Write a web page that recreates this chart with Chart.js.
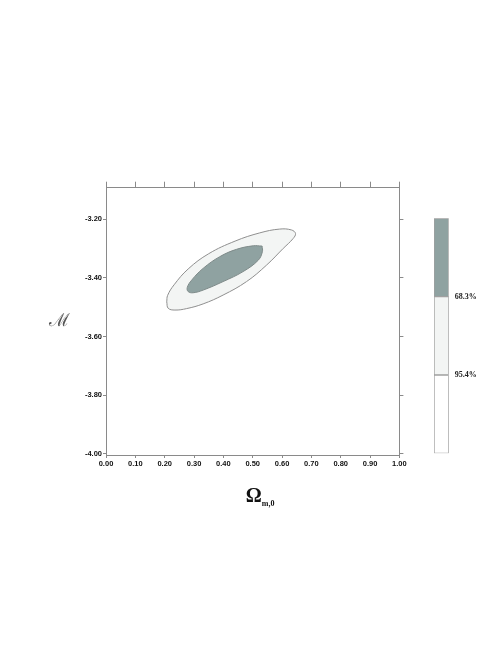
<!DOCTYPE html>
<html>
<head>
<meta charset="utf-8">
<script src="https://cdn.jsdelivr.net/npm/chart.js@4.4.1/dist/chart.umd.min.js"></script>
<style>
  html, body { margin: 0; padding: 0; background: #ffffff; }
  #wrap { position: relative; width: 498px; height: 645px; }
  #main { position: absolute; left: 0; top: 0; }
  #bar { position: absolute; left: 420px; top: 200px; }
</style>
</head>
<body>
<div id="wrap">
  <canvas id="main" width="498" height="645"></canvas>
  <canvas id="bar" width="78" height="270"></canvas>
</div>
<script>
// ---- data ----
const xTicks = [0.0, 0.1, 0.2, 0.3, 0.4, 0.5, 0.6, 0.7, 0.8, 0.9, 1.0];
const yTicks = [-4.0, -3.8, -3.6, -3.4, -3.2];
const xMin = 0.0, xMax = 1.0;
const yMin = -4.004, yMax = -3.093;

// 95.4% contour (closed)
const outerX = [0.207, 0.212, 0.235, 0.275, 0.331, 0.399, 0.479, 0.547, 0.604, 0.638, 0.646, 0.632, 0.592, 0.524, 0.440, 0.350, 0.280, 0.232, 0.210, 0.207];
const outerY = [-3.482, -3.504, -3.510, -3.505, -3.489, -3.459, -3.413, -3.357, -3.300, -3.266, -3.249, -3.237, -3.234, -3.247, -3.275, -3.318, -3.370, -3.424, -3.460, -3.482];
// 68.3% contour (closed)
const innerX = [0.532, 0.533, 0.519, 0.467, 0.399, 0.331, 0.297, 0.280, 0.277, 0.292, 0.331, 0.388, 0.445, 0.502, 0.532];
const innerY = [-3.292, -3.311, -3.340, -3.379, -3.413, -3.442, -3.451, -3.447, -3.433, -3.408, -3.368, -3.328, -3.303, -3.291, -3.292];

const levelLabels = ['95.4%', '68.3%'];
const levelColors = ['#ffffff', '#f3f5f4', '#8fa2a1'];
const barSegments = [1, 1, 1];

// ---- styles ----
const axisColor = '#8a8a8a';
const tickFont = { family: 'Liberation Sans', size: 7.5, weight: 'bold' };

const toPts = (xs, ys) => xs.map((x, i) => ({ x: x, y: ys[i] }));
const fmt = v => Number(v).toFixed(2);
const setTicks = arr => (s) => { s.ticks = arr.map(v => ({ value: v })); };
const fixW = w => (s) => { s.width = w; };
const fixH = h => (s) => { s.height = h; };

const titlePlugin = {
  id: 'axisTitles',
  afterDraw(chart) {
    const ctx = chart.ctx;
    const a = chart.chartArea;
    ctx.save();
    ctx.fillStyle = '#111111';
    ctx.textBaseline = 'alphabetic';
    ctx.textAlign = 'left';
    const cx = (a.left + a.right) / 2;
    ctx.font = 'bold 20px "Liberation Serif"';
    const wO = ctx.measureText('\u03A9').width;
    const x0 = cx - 7;
    ctx.fillText('\u03A9', x0, a.bottom + 47);
    ctx.font = 'bold 8px "Liberation Serif"';
    ctx.fillText('m,0', x0 + wO, a.bottom + 51);
    ctx.fillStyle = '#555555';
    ctx.font = '18px "DejaVu Serif"';
    ctx.textAlign = 'center';
    ctx.fillText('\u2133', 59.5, 326);
    ctx.restore();
  }
};

const gridOpts = (len) => ({ drawOnChartArea: false, drawTicks: true, tickLength: len, color: axisColor, lineWidth: 1 });
const borderOpts = { display: true, color: axisColor, width: 1 };

new Chart(document.getElementById('main'), {
  type: 'scatter',
  data: {
    datasets: [
      {
        data: toPts(innerX, innerY),
        showLine: true,
        fill: 'shape',
        backgroundColor: levelColors[2],
        borderColor: '#7f8b8a',
        borderWidth: 1,
        pointRadius: 0,
        tension: 0.4
      },
      {
        data: toPts(outerX, outerY),
        showLine: true,
        fill: 'shape',
        backgroundColor: levelColors[1],
        borderColor: '#8f8f8f',
        borderWidth: 1,
        pointRadius: 0,
        tension: 0.4
      }
    ]
  },
  options: {
    responsive: false,
    animation: false,
    devicePixelRatio: 1,
    layout: { padding: { left: 76, right: 94.3, top: 181.7, bottom: 175 } },
    plugins: { legend: { display: false }, tooltip: { enabled: false } },
    scales: {
      x: {
        type: 'linear', position: 'bottom', min: xMin, max: xMax,
        afterBuildTicks: setTicks(xTicks), afterFit: fixH(15),
        grid: gridOpts(3), border: borderOpts,
        ticks: { font: tickFont, color: '#111111', padding: 1, maxRotation: 0, autoSkip: false, callback: fmt }
      },
      x2: {
        type: 'linear', position: 'top', min: xMin, max: xMax,
        afterBuildTicks: setTicks(xTicks), afterFit: fixH(6),
        grid: gridOpts(6), border: borderOpts,
        ticks: { display: false }
      },
      y: {
        type: 'linear', position: 'left', min: yMin, max: yMax,
        afterBuildTicks: setTicks(yTicks), afterFit: fixW(30),
        grid: gridOpts(3), border: borderOpts,
        ticks: { font: tickFont, color: '#111111', padding: 1, autoSkip: false, callback: fmt }
      },
      y2: {
        type: 'linear', position: 'right', min: yMin, max: yMax,
        afterBuildTicks: setTicks(yTicks), afterFit: fixW(4.3),
        grid: gridOpts(4), border: borderOpts,
        ticks: { display: false }
      }
    }
  },
  plugins: [titlePlugin]
});

// ---- colour bar ----
new Chart(document.getElementById('bar'), {
  type: 'bar',
  data: {
    labels: [''],
    datasets: barSegments.map((v, i) => ({
      data: [v],
      backgroundColor: levelColors[i],
      borderColor: '#a0a0a0',
      borderWidth: 1,
      borderSkipped: false,
      barPercentage: 1,
      categoryPercentage: 1
    }))
  },
  options: {
    responsive: false,
    animation: false,
    devicePixelRatio: 1,
    layout: { padding: { left: 14, right: 0, top: 18.3, bottom: 16.7 } },
    plugins: { legend: { display: false }, tooltip: { enabled: false } },
    scales: {
      x: { stacked: true, display: false },
      y: {
        stacked: true, position: 'right', min: 0, max: 3,
        afterBuildTicks: (s) => { s.ticks = [1, 2].map(v => ({ value: v })); },
        afterFit: fixW(49.3),
        grid: { display: false, drawTicks: false },
        border: { display: false },
        ticks: {
          padding: 6,
          font: { family: 'Liberation Serif', size: 8, weight: 'bold' },
          color: '#222222',
          callback: (v) => levelLabels[Math.round(v) - 1]
        }
      }
    }
  }
});
</script>
</body>
</html>
